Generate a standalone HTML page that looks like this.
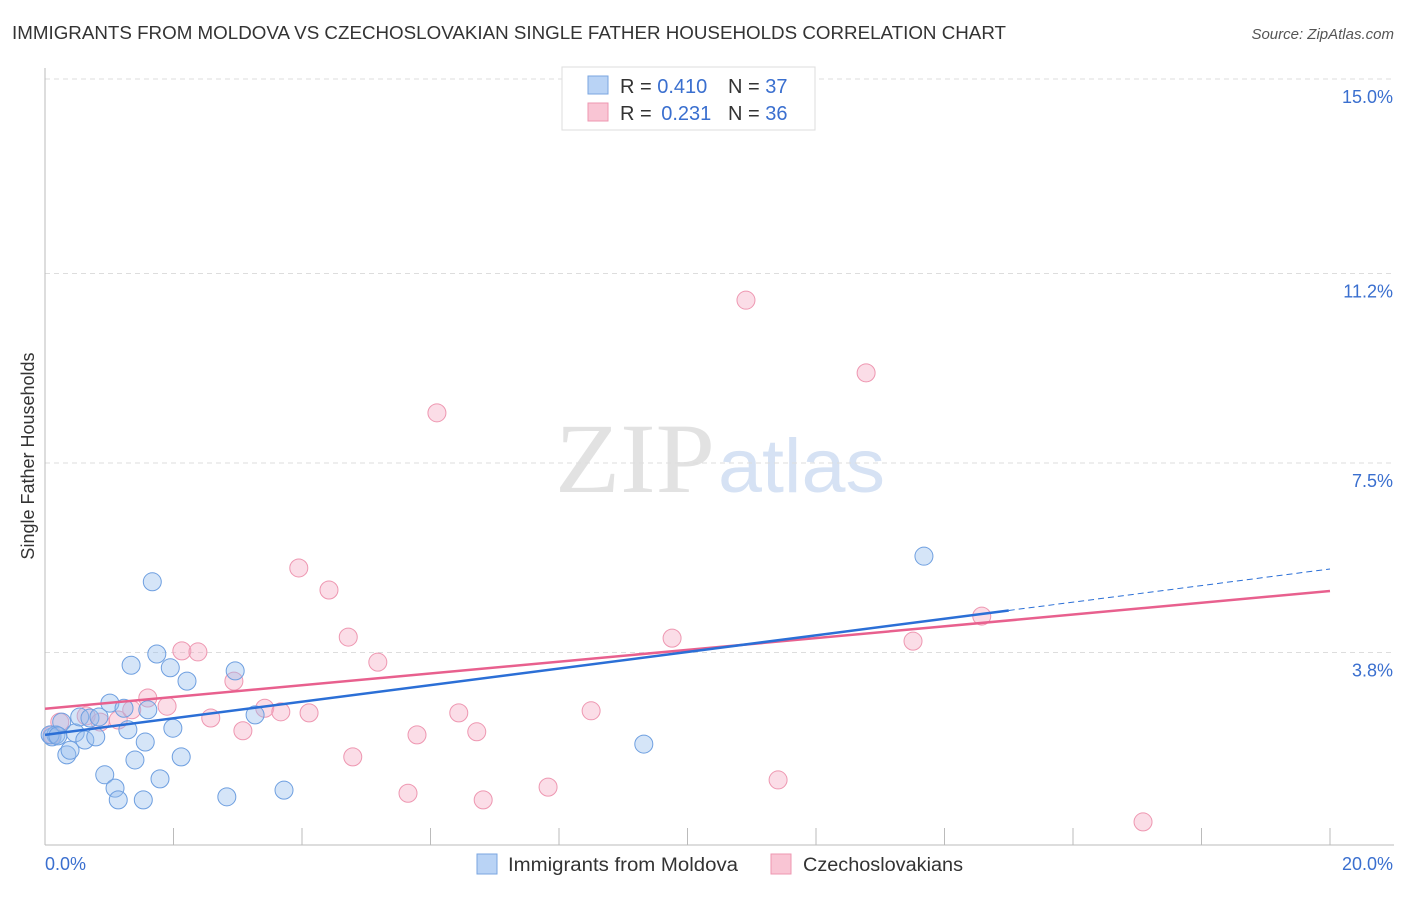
<!DOCTYPE html>
<html><head><meta charset="utf-8"><style>
body{margin:0;background:#fff;font-family:"Liberation Sans",sans-serif;}
svg text{font-family:"Liberation Sans",sans-serif;}
</style></head><body>
<svg id="chart" width="1406" height="892" xmlns="http://www.w3.org/2000/svg">
<text x="12" y="39" font-size="18" fill="#333" textLength="994" lengthAdjust="spacingAndGlyphs">IMMIGRANTS FROM MOLDOVA VS CZECHOSLOVAKIAN SINGLE FATHER HOUSEHOLDS CORRELATION CHART</text>
<text x="1394" y="39" font-size="15" fill="#555" font-style="italic" text-anchor="end">Source: ZipAtlas.com</text>
<text x="555" y="492" font-size="100" fill="#e2e2e2" textLength="160" lengthAdjust="spacingAndGlyphs" style="font-family:'Liberation Serif',serif">ZIP</text>
<text x="718" y="492" font-size="76" fill="#d6e2f4" textLength="167" lengthAdjust="spacingAndGlyphs">atlas</text>
<g id="grid"></g>
<g id="axes"></g>
<g id="points"></g>
<g id="lines"></g>
<text transform="translate(34,456) rotate(-90)" font-size="18" fill="#333" text-anchor="middle">Single Father Households</text>
<g>
<rect x="562" y="67" width="253" height="63" fill="#fff" stroke="#ddd"/>
<rect x="588" y="76" width="20" height="18" fill="#b9d3f5" stroke="#7aa6e0"/>
<rect x="588" y="103" width="20" height="18" fill="#f9c5d4" stroke="#ee97b1"/>
<text x="620" y="93" font-size="20" fill="#333">R = <tspan fill="#3a6fcf">0.410</tspan></text>
<text x="728" y="93" font-size="20" fill="#333">N = <tspan fill="#3a6fcf">37</tspan></text>
<text x="620" y="120" font-size="20" fill="#333">R = <tspan fill="#3a6fcf" dx="4">0.231</tspan></text>
<text x="728" y="120" font-size="20" fill="#333">N = <tspan fill="#3a6fcf">36</tspan></text>
</g>
<g>
<rect x="477" y="854" width="20" height="20" fill="#b9d3f5" stroke="#7aa6e0"/>
<text x="508" y="871" font-size="19" fill="#333" textLength="230" lengthAdjust="spacingAndGlyphs">Immigrants from Moldova</text>
<rect x="771" y="854" width="20" height="20" fill="#f9c5d4" stroke="#ee97b1"/>
<text x="803" y="871" font-size="19" fill="#333" textLength="160" lengthAdjust="spacingAndGlyphs">Czechoslovakians</text>
</g>
</svg>
<script>
const blueX=[0.11,0.17,0.26,0.34,0.39,0.47,0.54,0.62,0.70,0.79,0.84,0.93,1.01,1.09,1.14,1.23,1.29,1.34,1.40,1.53,1.56,1.60,1.67,1.74,1.79,1.95,1.99,2.12,2.21,2.83,2.96,3.27,3.72,9.32,13.68,0.08,0.20];
const blueY=[2.15,2.19,2.44,1.80,1.89,2.23,2.54,2.09,2.52,2.15,2.54,1.41,2.81,1.15,0.92,2.71,2.29,3.55,1.70,0.92,2.05,2.68,5.18,3.77,1.33,3.50,2.32,1.76,3.24,0.98,3.44,2.58,1.11,2.01,5.68,2.19,2.17];
const pinkX=[0.11,0.23,0.64,0.86,1.14,1.35,1.60,1.90,2.13,2.38,2.58,2.94,3.08,3.42,3.67,3.95,4.11,4.42,4.72,4.79,5.18,5.65,5.79,6.10,6.44,6.72,6.82,7.83,8.50,9.76,10.91,11.41,12.78,13.51,14.58,17.09];
const pinkY=[2.19,2.44,2.56,2.44,2.48,2.68,2.91,2.75,3.83,3.81,2.52,3.24,2.27,2.71,2.64,5.45,2.62,5.02,4.10,1.76,3.61,1.05,2.19,8.48,2.62,2.25,0.92,1.17,2.66,4.08,10.68,1.31,9.26,4.02,4.51,0.49];
const yTicks=[3.8,7.5,11.2,15.0];
const yTickLabels=["3.8%","7.5%","11.2%","15.0%"];
const xTickLabels=["0.0%","20.0%"];
const blueTrend=[2.19,5.43];
const pinkTrend=[2.70,5.00];
const blueSolidEnd=15.0;
const NS="http://www.w3.org/2000/svg";
const X=v=>45+v/20*1285;
const Y=v=>79+(15-v)*51.2;
function mk(tag,attrs,parent){const e=document.createElementNS(NS,tag);for(const k in attrs)e.setAttribute(k,attrs[k]);document.getElementById(parent).appendChild(e);return e;}
yTicks.forEach((t,i)=>{
 const g=mk('line',{x1:45,x2:1394,y1:Y(t),y2:Y(t),stroke:'#ddd','stroke-dasharray':'5,4'},'grid');
 
 
 const l=mk('text',{x:1393,y:Y(t)+24,'font-size':18,fill:'#3a6fcf','text-anchor':'end'},'axes');
 l.textContent=yTickLabels[i];
 
 
});
const ax=mk('line',{x1:45,x2:1394,y1:845,y2:845,stroke:'#bbb'},'axes');


const ay=mk('line',{x1:45,x2:45,y1:68,y2:845,stroke:'#bbb'},'axes');


for(let i=1;i<=10;i++){
 const t=mk('line',{x1:X(i*2),x2:X(i*2),y1:828,y2:845,stroke:'#bbb'},'axes');
 
 
}
const xl0=mk('text',{x:45,y:870,'font-size':18,fill:'#3a6fcf'},'axes');
xl0.textContent=xTickLabels[0];


const xl1=mk('text',{x:1393,y:870,'font-size':18,fill:'#3a6fcf','text-anchor':'end'},'axes');
xl1.textContent=xTickLabels[1];


pinkX.forEach((x,i)=>{
 const c=mk('circle',{cx:X(x),cy:Y(pinkY[i]),r:9,fill:'rgba(246,170,195,0.4)',stroke:'#ee97b1','stroke-width':1},'points');
 
 
});
blueX.forEach((x,i)=>{
 const c=mk('circle',{cx:X(x),cy:Y(blueY[i]),r:9,fill:'rgba(150,190,238,0.4)',stroke:'#6e9fe0','stroke-width':1},'points');
 
 
});
const bAt=v=>blueTrend[0]+(blueTrend[1]-blueTrend[0])*v/20;
const pl=mk('line',{x1:X(0),y1:Y(pinkTrend[0]),x2:X(20),y2:Y(pinkTrend[1]),stroke:'#e8608e','stroke-width':2.5},'lines');


const bl=mk('line',{x1:X(0),y1:Y(bAt(0)),x2:X(blueSolidEnd),y2:Y(bAt(blueSolidEnd)),stroke:'#2b6fd6','stroke-width':2.5},'lines');


const bd=mk('line',{x1:X(blueSolidEnd),y1:Y(bAt(blueSolidEnd)),x2:X(20),y2:Y(bAt(20)),stroke:'#2b6fd6','stroke-width':1,'stroke-dasharray':'6,4'},'lines');


</script>
</body></html>
